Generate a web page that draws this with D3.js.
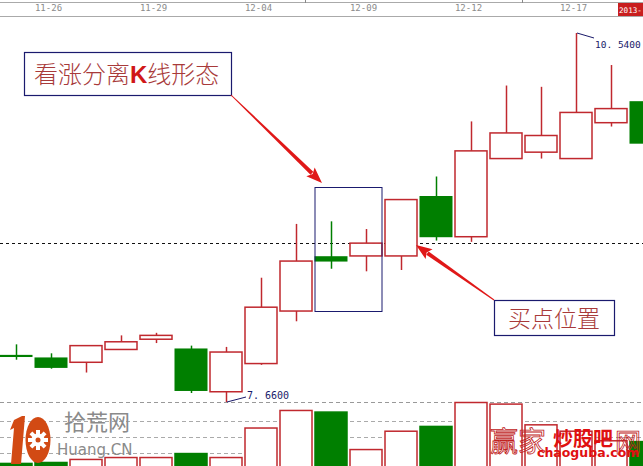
<!DOCTYPE html>
<html><head><meta charset="utf-8">
<script src="https://cdn.jsdelivr.net/npm/d3@7/dist/d3.min.js"></script>
<style>body{margin:0;background:#fff;overflow:hidden}svg{display:block}</style>
</head><body>
<svg id="c" width="643" height="466"></svg>
<script>
const dates = ["11-25","11-26","11-27","11-28","11-29","12-02","12-03","12-04","12-05","12-06","12-09","12-10","12-11","12-12","12-13","12-16","12-17","12-18","12-19"];
const openV  = [8.02,8.00,7.97,8.07,8.15,8.07,7.74,7.96,8.37,8.79,8.80,8.80,9.26,8.95,9.56,9.61,9.56,9.84,10.00];
const highV  = [8.11,8.04,8.10,8.18,8.20,8.10,8.09,8.63,9.05,9.07,9.01,9.24,9.42,9.85,10.13,10.12,10.54,10.29,10.00];
const lowV   = [7.99,7.92,7.89,8.07,8.12,7.73,7.66,7.95,8.29,8.70,8.68,8.69,8.92,8.91,9.56,9.56,9.56,9.81,9.68];
const closeV = [8.015,7.93,8.10,8.13,8.18,7.75,8.05,8.40,8.76,8.76,8.90,9.24,8.95,9.62,9.76,9.74,9.92,9.95,9.68];
const volV   = [3.8,4.4,6.3,7.5,7.5,10,7.5,26,37,36,12.5,24,27,42,41,28,24,18,17.5];
const tickDates = ["11-26","11-29","12-04","12-09","12-12","12-17"];
const volTicks = [10,20,30];
const buyLine = 8.90;

const svg = d3.select("#c");
const x = d3.scalePoint().domain(dates).range([16, 646]);
const y = d3.scaleLinear().domain([7.66, 10.54]).range([402, 33]);
const yv = d3.scaleLinear().domain([0, 42]).range([469, 402]);
const bw = 33;
const RED = "#c0282e", GREEN = "#007f00";

// top date axis
svg.append("line").attr("x1",0).attr("x2",643).attr("y1",2.5).attr("y2",2.5).attr("stroke","#aaa");
svg.append("line").attr("x1",0).attr("x2",643).attr("y1",16.5).attr("y2",16.5).attr("stroke","#aaa");
[305.5,522.5].forEach(v=>svg.append("line").attr("x1",v).attr("x2",v).attr("y1",0).attr("y2",3).attr("stroke","#888"));
const axisTop = d3.axisBottom(x).tickValues(tickDates).tickSize(0).tickPadding(0);
const ag = svg.append("g").attr("transform","translate(-3,5)").call(axisTop);
ag.select(".domain").remove();
ag.selectAll("text").attr("fill","#8a8a8a").attr("font-family","DejaVu Sans Mono, monospace").attr("font-size",9).attr("dy","0.71em");
svg.append("rect").attr("x",618).attr("y",3).attr("width",25).attr("height",13).attr("fill","#c81e1e");
svg.append("text").attr("x",619).attr("y",13).attr("fill","#fff").attr("font-family","DejaVu Sans Mono, monospace").attr("font-size",7.6).text("2013-");

// volume grid
svg.append("line").attr("x1",0).attr("x2",643).attr("y1",402.5).attr("y2",402.5).attr("stroke","#999").attr("stroke-dasharray","4,3");
volTicks.forEach(t=>svg.append("line").attr("x1",0).attr("x2",643).attr("y1",Math.round(yv(t))+0.5).attr("y2",Math.round(yv(t))+0.5).attr("stroke","#aaa").attr("stroke-dasharray","4,3"));

// volume bars
dates.forEach((d,i)=>{
  const up = closeV[i] >= openV[i] && !(i===0);
  const top = yv(volV[i]);
  svg.append("rect").attr("x",x(d)-bw/2+0.5).attr("y",top+0.5).attr("width",bw-1).attr("height",470-top)
    .attr("fill", up ? "#fff" : GREEN).attr("stroke", up ? RED : GREEN).attr("stroke-width",1.5);
});

// watermark left (logo)
const wl = svg.append("g");
const OR = "#d24a14";
wl.append("path").attr("d","M14,420 L22,416 L25,416 L21,464 L11,464 L14,428 L10,430 Z").attr("fill",OR);
wl.append("ellipse").attr("cx",38).attr("cy",440).attr("rx",12.5).attr("ry",23).attr("fill",OR);
const gear = wl.append("g").attr("transform","translate(38,440)");
d3.range(8).forEach(k=>gear.append("rect").attr("x",-2).attr("y",-10).attr("width",4).attr("height",5).attr("fill","#fff").attr("transform",`rotate(${k*45})`));
gear.append("circle").attr("r",6.5).attr("fill","#fff");
gear.append("circle").attr("r",2.5).attr("fill",OR);
wl.append("text").attr("x",64).attr("y",430).attr("font-family","Noto Sans CJK SC").attr("font-size",22).attr("fill","#8a8a8a").text("拾荒网");
wl.append("text").attr("x",57).attr("y",455).attr("font-family","DejaVu Sans").attr("font-size",15).attr("fill","#8a8a8a").text("Huang.CN");

// price dashed line
svg.append("line").attr("x1",0).attr("x2",643).attr("y1",Math.round(y(buyLine))+0.5).attr("y2",Math.round(y(buyLine))+0.5).attr("stroke","#111").attr("stroke-dasharray","3,3");

// candles
dates.forEach((d,i)=>{
  const o=openV[i], c=closeV[i], up = c>o;
  const cx = Math.round(x(d))+0.5;
  const col = up ? RED : GREEN;
  const g = svg.append("g");
  const bt = y(Math.max(o,c)), bb = y(Math.min(o,c));
  if (up) {
    g.append("line").attr("x1",cx).attr("x2",cx).attr("y1",y(highV[i])).attr("y2",bt).attr("stroke",col).attr("stroke-width",1.5);
    g.append("line").attr("x1",cx).attr("x2",cx).attr("y1",bb).attr("y2",y(lowV[i])).attr("stroke",col).attr("stroke-width",1.5);
    g.append("rect").attr("x",x(d)-bw/2+0.5).attr("y",bt).attr("width",bw-1).attr("height",Math.max(1,bb-bt)).attr("fill","#fff").attr("stroke",col).attr("stroke-width",1.5);
  } else {
    g.append("line").attr("x1",cx).attr("x2",cx).attr("y1",y(highV[i])).attr("y2",y(lowV[i])).attr("stroke",col).attr("stroke-width",1.5);
    g.append("rect").attr("x",x(d)-bw/2).attr("y",bt-1).attr("width",bw).attr("height",Math.max(2,bb-bt+1.5)).attr("fill",col);
  }
});

// high / low labels
const iLow = lowV.indexOf(d3.min(lowV)), iHigh = highV.indexOf(d3.max(highV));
svg.append("line").attr("x1",x(dates[iLow])+1).attr("y1",y(lowV[iLow])).attr("x2",x(dates[iLow])+20).attr("y2",y(lowV[iLow])-5).attr("stroke","#1a1a6a");
svg.append("text").attr("x",x(dates[iLow])+21).attr("y",y(lowV[iLow])-3).attr("font-family","DejaVu Sans Mono, monospace").attr("font-size",10).attr("fill","#1a1a6a")
  .text(d3.format(".4f")(lowV[iLow]).replace(".",". "));
svg.append("line").attr("x1",x(dates[iHigh])+1).attr("y1",y(highV[iHigh])).attr("x2",x(dates[iHigh])+18).attr("y2",y(highV[iHigh])+5).attr("stroke","#1a1a6a");
svg.append("text").attr("x",x(dates[iHigh])+19).attr("y",y(highV[iHigh])+15).attr("font-family","DejaVu Sans Mono, monospace").attr("font-size",9.5).attr("fill","#1a1a6a")
  .text(d3.format(".4f")(highV[iHigh]).replace(".",". "));

// annotation boxes
const NAVY = "#1a1a6e";
svg.append("rect").attr("x",x(dates[9])-bw/2+0.5).attr("y",187.5).attr("width",67).attr("height",124).attr("fill","none").attr("stroke",NAVY).attr("stroke-width",1);
svg.append("rect").attr("x",24.5).attr("y",52.5).attr("width",207).attr("height",43).attr("fill","#fff").attr("stroke",NAVY).attr("stroke-width",1.2);
const t1 = svg.append("text").attr("x",34).attr("y",83).attr("font-family","Noto Sans CJK SC").attr("font-weight",300).attr("font-size",24).attr("fill","#a83a3a");
t1.append("tspan").text("看涨分离");
t1.append("tspan").attr("font-weight","bold").attr("fill","#d01818").attr("font-family","Liberation Sans").text("K");
t1.append("tspan").text("线形态");
svg.append("rect").attr("x",494.5).attr("y",300.5).attr("width",120).attr("height",35).attr("fill","#fff").attr("stroke",NAVY).attr("stroke-width",1.2);
svg.append("text").attr("x",508).attr("y",327).attr("font-family","Noto Sans CJK SC").attr("font-weight",300).attr("font-size",23).attr("fill","#a83a3a").text("买点位置");

// arrows
function arrow(x1,y1,x2,y2){
  const ang = Math.atan2(y2-y1,x2-x1), L = Math.hypot(x2-x1,y2-y1);
  const g = svg.append("g").attr("transform",`translate(${x1},${y1}) rotate(${ang*180/Math.PI})`);
  g.append("path").attr("d",`M0,-0.5 L${L-14},-2 L${L-14},2 L0,0.5Z`).attr("fill","#e01818");
  g.append("path").attr("d",`M${L},0 L${L-16},-6 L${L-13},0 L${L-16},6Z`).attr("fill","#e01818");
}
arrow(231,95,322,183);
arrow(494,300,416,245);

// watermark right
const wr = svg.append("g");
wr.append("text").attr("x",490).attr("y",452).attr("font-family","Noto Sans CJK SC").attr("font-size",28).attr("fill","none").attr("stroke","#c02020").attr("stroke-width",0.8).text("赢家");
wr.append("text").attr("x",553).attr("y",446).attr("font-family","Noto Sans CJK SC").attr("font-weight","bold").attr("font-size",20).attr("fill","#e01010").text("炒股吧");
wr.append("text").attr("x",615).attr("y",452).attr("font-family","Noto Sans CJK SC").attr("font-size",26).attr("fill","none").attr("stroke","#c02020").attr("stroke-width",0.8).text("网");
wr.append("text").attr("x",537).attr("y",457).attr("font-family","DejaVu Sans").attr("font-weight","bold").attr("font-size",12.5).attr("fill","#e01010").text("chaoguba.com");
</script>
</body></html>
